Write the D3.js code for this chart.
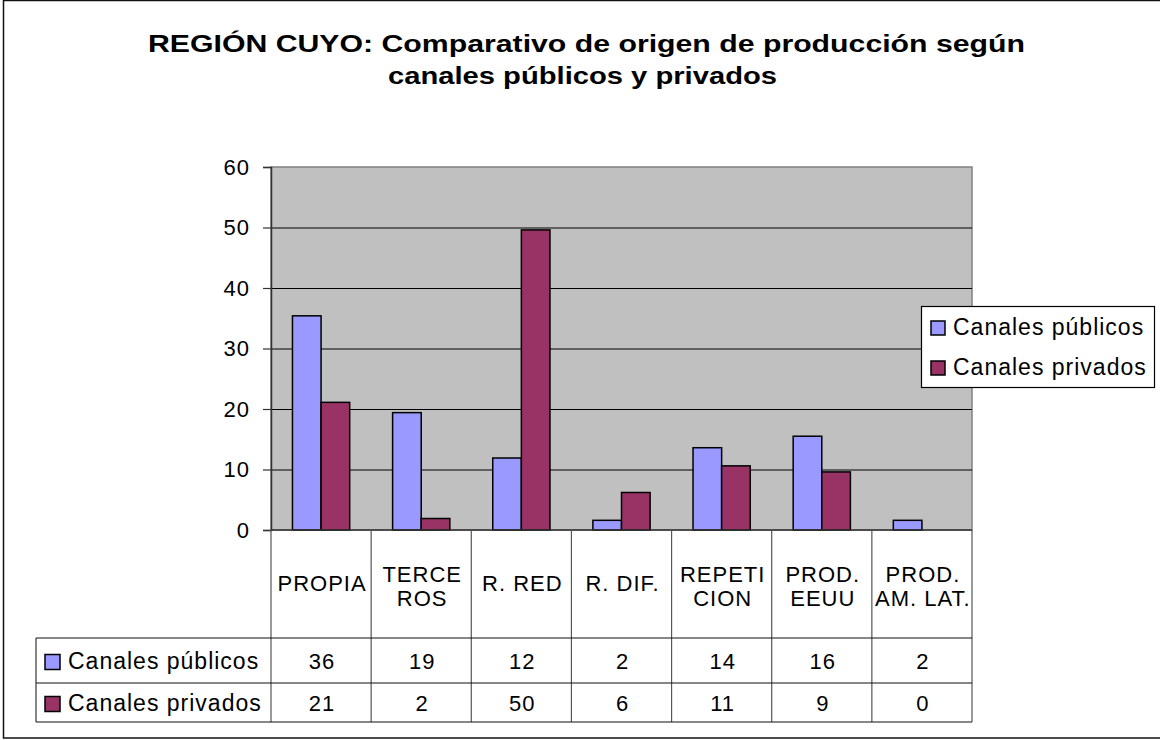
<!DOCTYPE html>
<html>
<head>
<meta charset="utf-8">
<script src="https://cdn.jsdelivr.net/npm/d3@7"></script>
<style>
    body { margin: 0; background: #fff; }
    text { font-family: "Liberation Sans", Arial, sans-serif; }
</style>
</head>
<body>
<div id="my_dataviz"></div>
<script>
// data
const categories = ["PROPIA", "TERCEROS", "R. RED", "R. DIF.", "REPETICION", "PROD. EEUU", "PROD. AM. LAT."];
const catLines = [["PROPIA"], ["TERCE", "ROS"], ["R. RED"], ["R.  DIF."], ["REPETI", "CION"], ["PROD.", "EEUU"], ["PROD.", "AM. LAT."]];
const seriesNames = ["Canales públicos", "Canales privados"];
const publicos = [35.4, 19.4, 11.9, 1.6, 13.6, 15.5, 1.6];
const privados = [21.1, 1.9, 49.6, 6.2, 10.6, 9.6, 0];
const tablePublicos = ["36", "19", "12", "2", "14", "16", "2"];
const tablePrivados = ["21", "2", "50", "6", "11", "9", "0"];
const yTicks = [0, 10, 20, 30, 40, 50, 60];
const colors = ["#9999FF", "#993366"];

const W = 1160, H = 740;
const plot = { left: 271, right: 972, top: 167, bottom: 530 };
const tbl = { left: 36, header: 638, row1: 683, row2: 722 };
const fs = 22, ls = 1;
const fsLabel = 23;

const svg = d3.select("#my_dataviz")
    .append("svg")
    .attr("width", W)
    .attr("height", H);

// outer chart border
svg.append("rect")
    .attr("x", 3.5).attr("y", 0.5)
    .attr("width", W + 10).attr("height", 737.5)
    .attr("fill", "#fff").attr("stroke", "#111").attr("stroke-width", 1.5);

// title (Excel draws it wide, so stretch to the same width)
const title = svg.append("text")
    .attr("font-weight", "bold")
    .attr("font-size", 23)
    .attr("fill", "#000");
title.append("tspan").attr("x", 148).attr("y", 52)
    .attr("textLength", 877).attr("lengthAdjust", "spacingAndGlyphs")
    .text("REGIÓN CUYO: Comparativo de origen de producción según");
title.append("tspan").attr("x", 388).attr("y", 84)
    .attr("textLength", 389).attr("lengthAdjust", "spacingAndGlyphs")
    .text("canales públicos y privados");

const x = d3.scaleBand()
    .domain(categories)
    .range([plot.left, plot.right]);

const xs = d3.scaleBand()
    .domain(seriesNames)
    .range([0, x.bandwidth()])
    .paddingOuter(0.75);

const y = d3.scaleLinear()
    .domain([0, 60])
    .range([plot.bottom, plot.top]);

// plot background
svg.append("rect")
    .attr("x", plot.left).attr("y", plot.top)
    .attr("width", plot.right - plot.left).attr("height", plot.bottom - plot.top)
    .attr("fill", "#C0C0C0").attr("stroke", "#808080").attr("stroke-width", 1.5);

// gridlines
svg.append("g")
    .attr("transform", `translate(${plot.left},0)`)
    .call(d3.axisLeft(y).tickValues(yTicks.filter(d => d > 0 && d < 60)).tickSize(-(plot.right - plot.left)).tickFormat(""))
    .call(g => g.select(".domain").remove())
    .selectAll(".tick line").attr("stroke", "#000").attr("stroke-width", 1);

// y axis
const yAxis = svg.append("g")
    .attr("transform", `translate(${plot.left},0)`)
    .call(d3.axisLeft(y).tickValues(yTicks).tickSize(8).tickPadding(13));
yAxis.select(".domain").attr("stroke", "#333").attr("stroke-width", 1.5);
yAxis.selectAll(".tick line").attr("stroke", "#333").attr("stroke-width", 1.2);
yAxis.selectAll("text")
    .attr("font-size", fs).attr("letter-spacing", ls).attr("fill", "#000")
    .attr("font-family", "Liberation Sans, Arial, sans-serif");

// bars
const rows = categories.map((c, i) => ({ cat: c, values: [publicos[i], privados[i]] }));
svg.append("g")
    .selectAll("g")
    .data(rows)
    .join("g")
    .attr("transform", d => `translate(${x(d.cat)},0)`)
    .selectAll("rect")
    .data(d => d.values.map((v, j) => ({ key: seriesNames[j], v: v, j: j })))
    .join("rect")
    .filter(d => d.v > 0)
    .attr("x", d => xs(d.key))
    .attr("y", d => y(d.v))
    .attr("width", xs.bandwidth())
    .attr("height", d => y(0) - y(d.v))
    .attr("fill", d => colors[d.j])
    .attr("stroke", "#000")
    .attr("stroke-width", 1.5);

// zero axis line
svg.append("line")
    .attr("x1", plot.left).attr("x2", plot.right)
    .attr("y1", y(0)).attr("y2", y(0))
    .attr("stroke", "#333").attr("stroke-width", 1.5);

// data table: vertical cell lines
const bounds = categories.map(c => x(c)).concat([plot.right]);
svg.append("g")
    .selectAll("line")
    .data(bounds)
    .join("line")
    .attr("x1", d => d).attr("x2", d => d)
    .attr("y1", plot.bottom).attr("y2", tbl.row2)
    .attr("stroke", "#555").attr("stroke-width", 1.2);

// left column border
svg.append("line")
    .attr("x1", tbl.left).attr("x2", tbl.left)
    .attr("y1", tbl.header).attr("y2", tbl.row2)
    .attr("stroke", "#333").attr("stroke-width", 1.2);

svg.append("g")
    .selectAll("line")
    .data([tbl.header, tbl.row1, tbl.row2])
    .join("line")
    .attr("x1", tbl.left).attr("x2", plot.right)
    .attr("y1", d => d).attr("y2", d => d)
    .attr("stroke", "#111").attr("stroke-width", 1.2);

// category header labels
const head = svg.append("g")
    .selectAll("text")
    .data(categories)
    .join("text")
    .attr("text-anchor", "middle")
    .attr("font-size", fs)
    .attr("letter-spacing", ls)
    .attr("fill", "#000");
head.each(function(c, i) {
    const lines = catLines[i];
    const cx = x(c) + x.bandwidth() / 2 + 1;
    const y0 = lines.length == 1 ? 591 : 582;
    lines.forEach((t, k) => {
        d3.select(this).append("tspan")
            .attr("x", cx)
            .attr("y", y0 + k * 24)
            .text(t);
    });
});

// table rows
const tableRows = [
    { name: seriesNames[0], color: colors[0], vals: tablePublicos, y: (tbl.header + tbl.row1) / 2 },
    { name: seriesNames[1], color: colors[1], vals: tablePrivados, y: (tbl.row1 + tbl.row2) / 2 }
];
tableRows.forEach(r => {
    svg.append("rect")
        .attr("x", 45).attr("y", r.y - 6)
        .attr("width", 15).attr("height", 15)
        .attr("fill", r.color).attr("stroke", "#000").attr("stroke-width", 1.5);
    svg.append("text")
        .attr("x", 68).attr("y", r.y + 8)
        .attr("font-size", fsLabel)
        .attr("letter-spacing", ls)
        .text(r.name);
    svg.append("g")
        .selectAll("text")
        .data(r.vals)
        .join("text")
        .attr("x", (d, i) => x(categories[i]) + x.bandwidth() / 2 + 1)
        .attr("y", r.y + 8)
        .attr("text-anchor", "middle")
        .attr("font-size", fs)
        .attr("letter-spacing", ls)
        .text(d => d);
});

// legend
const legend = svg.append("g");
legend.append("rect")
    .attr("x", 921.5).attr("y", 306.5)
    .attr("width", 233).attr("height", 81)
    .attr("fill", "#fff").attr("stroke", "#000").attr("stroke-width", 1.2);
legend.selectAll("g")
    .data(seriesNames)
    .join("g")
    .attr("transform", (d, i) => `translate(931,${321 + i * 40})`)
    .each(function(d, i) {
        const g = d3.select(this);
        g.append("rect")
            .attr("width", 14).attr("height", 14)
            .attr("fill", colors[i]).attr("stroke", "#000").attr("stroke-width", 1.5);
        g.append("text")
            .attr("x", 22).attr("y", 14)
            .attr("font-size", fsLabel)
            .attr("letter-spacing", ls)
            .text(d);
    });
</script>
</body>
</html>
